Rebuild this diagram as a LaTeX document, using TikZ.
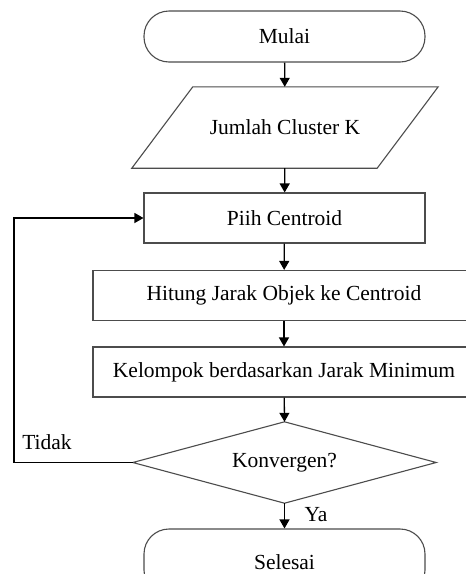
\documentclass[tikz,border=0pt]{standalone}
\usepackage{fontspec}
\setmainfont{Liberation Serif}
\usetikzlibrary{shapes.geometric,arrows.meta}
\begin{document}
\begin{tikzpicture}[x=1pt,y=-1pt,
  every node/.style={font=\fontsize{21.5}{24}\selectfont},
  boxline/.style={draw=black!70,line width=1.1pt},
  termbox/.style={boxline,rectangle,rounded corners=25pt,minimum width=281pt,inner sep=0pt},
  procbox/.style={boxline,rectangle,minimum width=281pt,minimum height=50pt,inner sep=0pt},
  widebox/.style={boxline,rectangle,minimum width=382pt,minimum height=50pt,inner sep=0pt},
  flow/.style={black,line width=1.3pt,-{Triangle[length=9pt,width=10pt]}},
  lbl/.style={inner sep=0pt}]
\useasboundingbox (0,0) rectangle (466,574);
\clip (0,0) rectangle (466,574);
\fill[white] (0,0) rectangle (466,574);
\node[termbox,minimum height=51pt] (mulai) at (284.5,36.5) {Mulai};
\node[inner sep=0pt,minimum width=306pt,minimum height=81pt] (input) at (285,127.5) {Jumlah Cluster K};
\draw[boxline] (input.south west) -- ([xshift=-61pt]input.south east) -- (input.north east) -- ([xshift=61pt]input.north west) -- cycle;
\node[procbox] (pilih) at (284.5,218) {Piih Centroid};
\node[widebox] (hitung) at (284,295.5) {Hitung Jarak Objek ke Centroid};
\node[widebox] (kelompok) at (284,372) {Kelompok berdasarkan Jarak Minimum};
\node[inner sep=0pt,minimum width=303pt,minimum height=81pt] (konv) at (284.5,462.5) {Konvergen?};
\draw[boxline] (konv.north) -- (konv.east) -- (konv.south) -- (konv.west) -- cycle;
\node[termbox,minimum height=66pt] (selesai) at (284.5,562) {Selesai};
\coordinate (lb) at (14,462.5);
\coordinate (lt) at (14,218);
\draw[flow] (mulai) -- (input);
\draw[flow] (input) -- (pilih);
\draw[flow] (pilih) -- (hitung);
\draw[flow] (hitung) -- (kelompok);
\draw[flow] (kelompok) -- (konv.north);
\draw[flow] (konv.south) -- (selesai);
\draw[flow] (konv.west) -- (lb) -- (lt) -- (pilih.west);
\node[lbl] (tidak) at (47,442) {Tidak};
\node[lbl] (ya) at (316,515) {Ya};
\end{tikzpicture}
\end{document}
